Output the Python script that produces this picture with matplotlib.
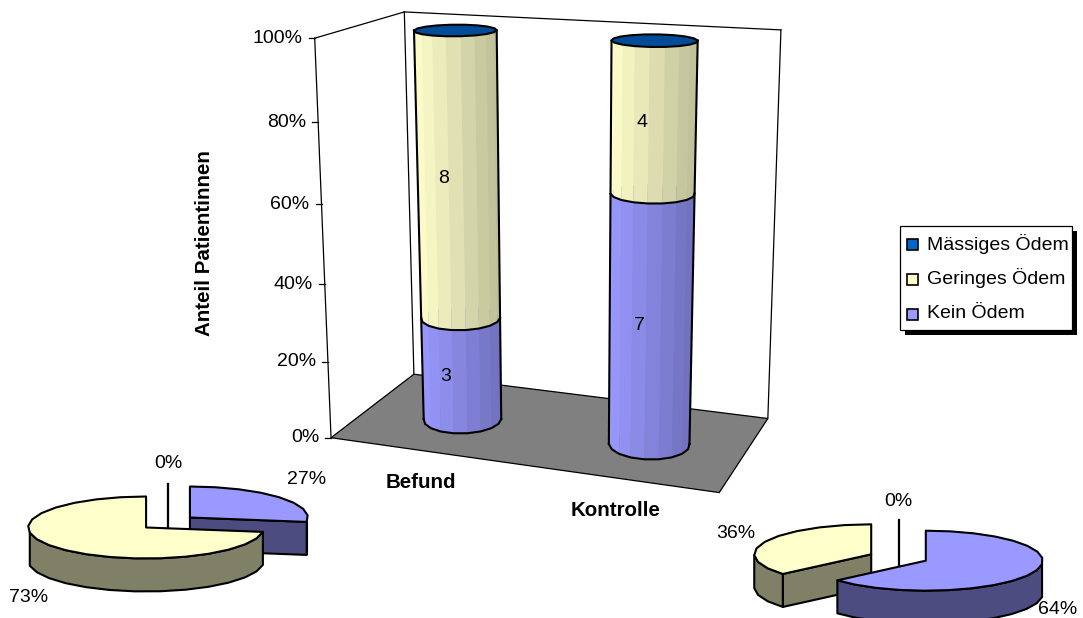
import numpy as np
import matplotlib
matplotlib.use("Agg")
import matplotlib.pyplot as plt
from matplotlib.patches import Polygon, Rectangle

plt.rcParams['font.family'] = ['Liberation Sans', 'DejaVu Sans']

# Patient counts per group, stacked from bottom to top
categories = ["Befund", "Kontrolle"]
series_names = ["Kein Ödem", "Geringes Ödem", "Mässiges Ödem"]
kein = [3, 7]
geringes = [8, 4]
maessig = [0, 0]
y_ticks = [0, 20, 40, 60, 80, 100]
y_title = "Anteil Patientinnen"

LIGHT = {"Kein Ödem": "#9999FF", "Geringes Ödem": "#FFFFCC", "Mässiges Ödem": "#0066CC"}
SHADE = {"Kein Ödem": "#7070BC", "Geringes Ödem": "#BDBD97", "Mässiges Ödem": "#004C99"}
SIDE = {"Kein Ödem": "#4C4C80", "Geringes Ödem": "#808066", "Mässiges Ödem": "#003366"}
FS = 14
FS_BOLD = 14.8

fig = plt.figure(figsize=(10.83, 6.18), dpi=100, facecolor="white")
ax = fig.add_axes([0, 0, 1, 1])
ax.set_xlim(0, 1083)
ax.set_ylim(618, 0)
ax.axis("off")

# Camera of the 3-D plot box, solved from where its corners land on the canvas
box_pts = np.array([[0, 0, 0], [0, 1, 0], [1, 1, 0], [1, 0, 0], [0, 0, 1], [0, 1, 1], [1, 1, 1]], float)
canvas_pts = np.array([[331, 437.5], [414, 374.5], [768, 418], [719, 493], [315, 38], [404, 12], [781, 30]], float)
rows = []
for (a, b, c), (px, py) in zip(box_pts, canvas_pts):
    rows.append([a, b, c, 1, 0, 0, 0, 0, -px * a, -px * b, -px * c, -px])
    rows.append([0, 0, 0, 0, a, b, c, 1, -py * a, -py * b, -py * c, -py])
P = np.linalg.svd(np.array(rows))[2][-1].reshape(3, 4)


def project(u, w, z):
    h = P @ np.array([u, w, z, 1.0])
    return h[0] / h[2], h[1] / h[2]


# Walls and floor
LW = 0.9
ax.add_patch(Polygon([project(0, 0, 0), project(0, 1, 0), project(1, 1, 0), project(1, 0, 0)],
                     closed=True, fc="#808080", ec="black", lw=LW, zorder=1))
for seg in [((0, 0, 0), (0, 0, 1)), ((0, 0, 1), (0, 1, 1)), ((0, 1, 1), (0, 1, 0)),
            ((0, 1, 1), (1, 1, 1)), ((1, 1, 1), (1, 1, 0))]:
    xs, ys = zip(project(*seg[0]), project(*seg[1]))
    ax.plot(xs, ys, color="black", lw=LW, zorder=1)

# Percent axis along the front-left edge
for t in y_ticks:
    x, y = project(0, 0, t / 100)
    ax.plot([x - 6, x], [y, y], color="black", lw=LW, zorder=1)
    ax.text(x - 12, y, f"{t}%", ha="right", va="center", fontsize=FS, color="black")
ax.text(205, 243, y_title, rotation=90, ha="center", va="center", fontsize=FS_BOLD, fontweight="bold")


def blend(c0, c1, t):
    a, b = np.array(matplotlib.colors.to_rgb(c0)), np.array(matplotlib.colors.to_rgb(c1))
    return tuple(a + (b - a) * t)


FACETS = 18


def ring(cu, cw, ru, rw, z):
    ang = np.linspace(0, 2 * np.pi, FACETS, endpoint=False)
    return [project(cu + ru * np.cos(t), cw + rw * np.sin(t), z) for t in ang]


def extreme_index(points, pick):
    xs = [p[0] for p in points]
    return xs.index(pick(xs))


def front_arc(points):
    # walk from the leftmost vertex through the near side to the rightmost one
    left = extreme_index(points, min)
    right = extreme_index(points, max)
    if right < left:
        right += FACETS
    return [points[k % FACETS] for k in range(left, right + 1)]


def cylinder(cu, cw, ru, rw, values, names):
    total = sum(values)
    bottom = 0.0
    zo = 3 + cu
    base = ring(cu, cw, ru, rw, 0)
    for v, name in zip(values, names):
        if v == 0:
            continue
        z0, z1 = bottom / total, (bottom + v) / total
        lower = ring(cu, cw, ru, rw, z0)
        upper = ring(cu, cw, ru, rw, z1)
        xmin, xmax = min(p[0] for p in lower), max(p[0] for p in lower)
        # far facets first so the near ones paint over them
        order = sorted(range(FACETS), key=lambda k: -np.sin(2 * np.pi * (k + 0.5) / FACETS))
        for i in order:
            j = (i + 1) % FACETS
            f = ((lower[i][0] + lower[j][0]) / 2 - xmin) / (xmax - xmin)
            ax.add_patch(Polygon([lower[i], lower[j], upper[j], upper[i]], closed=True,
                                 fc=blend(LIGHT[name], SHADE[name], f), ec="none", zorder=zo))
        ax.plot(*zip(*front_arc(lower)), color="black", lw=1.5, zorder=zo + 0.1)
        bottom += v
        zo += 0.01
    # outline down both sides and the cap, coloured by the uppermost series
    top = ring(cu, cw, ru, rw, 1)
    for pick in (min, max):
        a, b = base[extreme_index(base, pick)], top[extreme_index(top, pick)]
        ax.plot([a[0], b[0]], [a[1], b[1]], color="black", lw=1.5, zorder=zo + 0.1)
    ax.add_patch(Polygon(top, closed=True, fc=SHADE[names[-1]], ec="black", lw=1.5, zorder=zo + 0.2))


stacks = list(zip(kein, geringes, maessig))
centres = [0.26, 0.762]
label_nudge = [[(-19, 10), (-18, 3)], [(-14, 7), (-14, 6)]]
for i, vals in enumerate(stacks):
    cu = centres[i]
    cylinder(cu, 0.46, 0.1, 0.2, vals, series_names)
    total = sum(vals)
    acc = 0
    for j, v in enumerate(vals):
        if v:
            x, y = project(cu, 0.5, (acc + v / 2) / total)
            dx, dy = label_nudge[i][j]
            ax.text(x + dx, y + dy, str(v), ha="center", va="center", fontsize=FS, zorder=9)
        acc += v

ax.text(421, 483, categories[0], ha="center", va="center", fontsize=FS_BOLD, fontweight="bold")
ax.text(616, 510, categories[1], ha="center", va="center", fontsize=FS_BOLD, fontweight="bold")

# Legend with a hard drop shadow
ax.add_patch(Rectangle((905, 231), 172, 104, fc="black", ec="none", zorder=5))
ax.add_patch(Rectangle((900, 226), 172, 104, fc="white", ec="black", lw=LW, zorder=6))
for k, name in enumerate(series_names[::-1]):
    yc = 244.5 + 35 * k
    ax.add_patch(Rectangle((907, yc - 5.5), 11, 11, fc=LIGHT[name], ec="black", lw=1.2, zorder=7))
    ax.text(927, yc - 1, name, ha="left", va="center", fontsize=FS, zorder=7)


def wedge_xy(cx, cy, rx, ry, a0, a1):
    n = max(int(abs(a1 - a0) / 12), 1)
    th = np.radians(np.linspace(a0, a1, n + 1))
    return cx + rx * np.sin(th), cy - ry * np.cos(th)


def exploded_pie(cx, cy, values, names, label_xy, rx=118, ry=31, depth=33, blast=29):
    total = sum(values)
    fracs = [v / total for v in values]
    edges = np.cumsum([0] + fracs) * 360
    # the empty slice is a hairline standing behind the others
    for v in values:
        if v == 0:
            my = cy - blast * ry / rx
            ax.plot([cx, cx], [my - ry, my + depth], color="black", lw=1.6, zorder=2.5)
    # the slice that reaches furthest forward goes last
    draw = sorted((i for i in range(len(values)) if values[i]), key=lambda i: edges[i + 1] - edges[i])
    for i in draw:
        a0, a1 = edges[i], edges[i + 1]
        mid = np.radians((a0 + a1) / 2)
        ox = cx + blast * np.sin(mid)
        oy = cy - blast * ry / rx * np.cos(mid)
        xs, ys = wedge_xy(ox, oy, rx, ry, a0, a1)
        style = dict(ec="black", lw=1.5, zorder=3, fc=SIDE[names[i]], joinstyle="round")
        if np.sin(np.radians(a0)) < -1e-6:
            ax.add_patch(Polygon([(ox, oy), (xs[0], ys[0]), (xs[0], ys[0] + depth), (ox, oy + depth)], closed=True, **style))
        if np.sin(np.radians(a1)) > 1e-6:
            ax.add_patch(Polygon([(ox, oy), (xs[-1], ys[-1]), (xs[-1], ys[-1] + depth), (ox, oy + depth)], closed=True, **style))
        th = np.radians(np.linspace(a0, a1, len(xs)))
        front = -np.cos(th) > -0.02
        if front.any():
            fx, fy = xs[front], ys[front]
            ax.add_patch(Polygon(list(zip(fx, fy)) + list(zip(fx[::-1], fy[::-1] + depth)), closed=True, **style))
        ax.add_patch(Polygon([(ox, oy)] + list(zip(xs, ys)), closed=True, fc=LIGHT[names[i]],
                             ec="black", lw=1.5, zorder=3, joinstyle="round"))
    for v, (lx, ly) in zip(values, label_xy):
        ax.text(lx, ly, f"{round(v / total * 100)}%", ha="center", va="center", fontsize=FS, zorder=9)


exploded_pie(168, 522.5, [kein[0], geringes[0], maessig[0]], series_names, [(307, 479), (29, 597), (168, 463)])
exploded_pie(898.5, 557.5, [kein[1], geringes[1], maessig[1]], series_names, [(1058, 610), (736, 533), (898, 502)], rx=117, ry=30, blast=30)

fig.savefig("out.png", dpi=100)
